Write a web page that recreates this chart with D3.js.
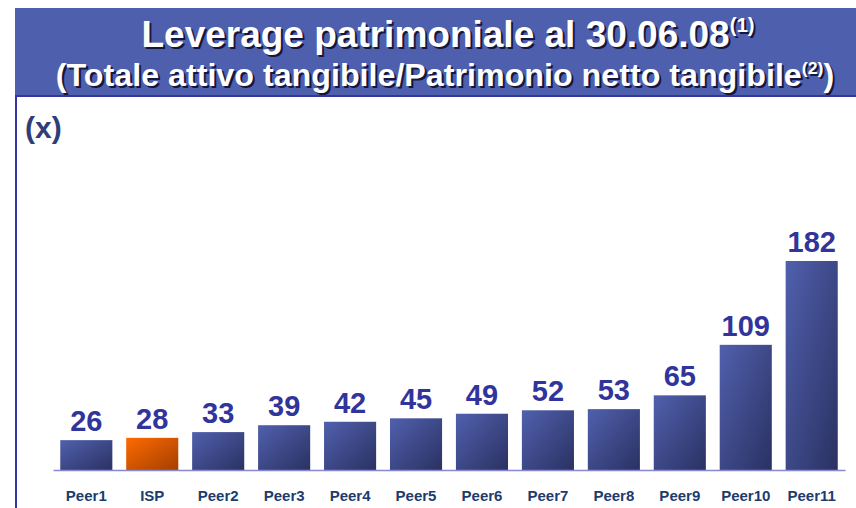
<!DOCTYPE html>
<html>
<head>
<meta charset="utf-8">
<script src="https://cdn.jsdelivr.net/npm/d3@7"></script>
<style>
  body { margin: 0; background: #fff; }
  svg { display: block; }
</style>
</head>
<body>
<div id="vis"></div>
<script>
const FRAME_WIDTH = 856;
const FRAME_HEIGHT = 508;

const categories = ["Peer1", "ISP", "Peer2", "Peer3", "Peer4", "Peer5", "Peer6",
                    "Peer7", "Peer8", "Peer9", "Peer10", "Peer11"];
const values = [26, 28, 33, 39, 42, 45, 49, 52, 53, 65, 109, 182];
const highlight = ["ISP"];

const FONT = "'Liberation Sans', Arial, Helvetica, sans-serif";

const SVG = d3.select("#vis")
  .append("svg")
    .attr("width", FRAME_WIDTH)
    .attr("height", FRAME_HEIGHT);

const defs = SVG.append("defs");

function grad(id, c1, c2) {
  const g = defs.append("linearGradient")
    .attr("id", id)
    .attr("x1", "0%").attr("y1", "0%")
    .attr("x2", "100%").attr("y2", "100%");
  g.append("stop").attr("offset", "0%").attr("stop-color", c1);
  g.append("stop").attr("offset", "100%").attr("stop-color", c2);
}
grad("blueGrad", "#5060ad", "#2a3162");
grad("orangeGrad", "#ff6a00", "#a33f00");

// title box
SVG.append("rect")
  .attr("x", 15).attr("y", 8)
  .attr("width", FRAME_WIDTH - 15).attr("height", 88)
  .attr("fill", "#4e5fad");

SVG.append("rect")
  .attr("x", 15).attr("y", 95)
  .attr("width", FRAME_WIDTH - 15).attr("height", 2)
  .attr("fill", "#3535a0");

SVG.append("rect")
  .attr("x", 15).attr("y", 95)
  .attr("width", 2).attr("height", FRAME_HEIGHT - 95)
  .attr("fill", "#3535a0");

// white title text with a dark drop shadow
function titleLine(cx, y, size, sx, before, sup, after) {
  const g = SVG.append("g")
    .attr("transform", "translate(" + cx + "," + y + ") scale(" + sx + ",1)");
  [[2, 2, "#15163a"], [0, 0, "#ffffff"]].forEach(([dx, dy, col]) => {
    const t = g.append("text")
      .attr("x", dx).attr("y", dy)
      .attr("text-anchor", "middle")
      .attr("font-family", FONT)
      .attr("font-weight", "bold")
      .attr("font-size", size + "px")
      .attr("fill", col);
    t.append("tspan").text(before);
    t.append("tspan")
      .attr("dy", -size * 0.4)
      .attr("font-size", (size * 0.55) + "px")
      .text(sup);
    if (after) {
      t.append("tspan")
        .attr("dy", size * 0.4)
        .text(after);
    }
  });
}

titleLine(448, 47, 37, 1.0, "Leverage patrimoniale al 30.06.08", "(1)", "");
titleLine(445, 86, 31, 1.04, "(Totale attivo tangibile/Patrimonio netto tangibile", "(2)", ")");

SVG.append("text")
  .attr("x", 25).attr("y", 138)
  .attr("font-family", FONT)
  .attr("font-weight", "bold")
  .attr("font-size", "30px")
  .attr("fill", "#2f3d78")
  .text("(x)");

// scales
const X_SCALE = d3.scaleBand()
  .domain(categories)
  .range([53, 845])
  .paddingInner(0.21)
  .paddingOuter(0.11);

const Y_SCALE = d3.scaleLinear()
  .domain([0, 182])
  .range([470, 261]);

const data = categories.map((c, i) => ({ cat: c, val: values[i] }));

SVG.selectAll(".bar")
  .data(data)
  .enter()
  .append("rect")
    .attr("class", "bar")
    .attr("x", (d) => X_SCALE(d.cat))
    .attr("y", (d) => Y_SCALE(d.val))
    .attr("width", X_SCALE.bandwidth())
    .attr("height", (d) => Y_SCALE(0) - Y_SCALE(d.val))
    .attr("fill", (d) => highlight.includes(d.cat) ? "url(#orangeGrad)" : "url(#blueGrad)");

// baseline axis
SVG.append("g")
  .attr("transform", "translate(0," + Y_SCALE(0) + ")")
  .call(d3.axisBottom(X_SCALE).tickSize(0).tickPadding(20))
  .call((g) => g.select(".domain")
    .attr("stroke", "#8888cc")
    .attr("stroke-width", 1.5))
  .call((g) => g.selectAll("text")
    .attr("font-family", FONT)
    .attr("font-weight", "bold")
    .attr("font-size", "15px")
    .attr("fill", "#1d3c6e"));

SVG.selectAll(".val")
  .data(data)
  .enter()
  .append("text")
    .attr("class", "val")
    .attr("x", (d) => X_SCALE(d.cat) + X_SCALE.bandwidth() / 2)
    .attr("y", (d) => Y_SCALE(d.val) - 9)
    .attr("text-anchor", "middle")
    .attr("font-family", FONT)
    .attr("font-weight", "bold")
    .attr("font-size", "29px")
    .attr("fill", "#31349a")
    .text((d) => d.val);
</script>
</body>
</html>
